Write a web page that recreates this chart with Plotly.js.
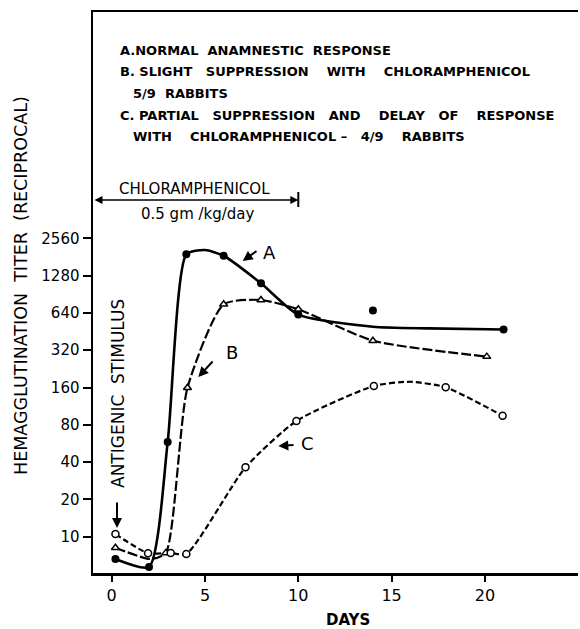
<!DOCTYPE html>
<html><head><meta charset="utf-8">
<script src="https://cdn.plot.ly/plotly-3.0.1.min.js"></script>
<style>html,body{margin:0;padding:0;background:#fff}#chart{width:580px;height:629px}</style>
</head><body><div id="chart"></div>
<script>
// ---- data ----
const yTickVals = [10, 20, 40, 80, 160, 320, 640, 1280, 2560];
const yTickText = ["10", "20", "40", "80", "160", "320", "640", "1280", "2560"];
const xTickVals = [0, 5, 10, 15, 20];

// A: normal anamnestic response (observed points)
const daysA  = [0.2, 2, 3, 4, 6, 8, 10, 14, 21];
const titerA = [6.6, 5.7, 58, 1900, 1850, 1110, 620, 670, 470];
// A: drawn smooth curve
const curveDaysA  = [0.2, 2, 3, 4, 5, 6, 8, 10, 14, 17, 21];
const curveTiterA = [6.6, 5.7, 58, 1900, 2060, 1850, 1110, 620, 495, 480, 470];

// B: slight suppression
const daysB  = [0.2, 2.9, 4.06, 6, 8, 10, 14, 20.1];
const titerB = [8.15, 7.4, 159, 751, 814, 684, 382, 284];
const curveDaysB  = [0.2, 2.1, 2.9, 4.06, 6, 8, 10, 14, 20.1];
const curveTiterB = [8.15, 6.6, 7.4, 159, 751, 814, 684, 382, 284];

// C: partial suppression and delay
const daysC  = [0.2, 1.95, 3.16, 4, 7.17, 9.9, 14.05, 17.9, 20.95];
const titerC = [10.5, 7.35, 7.4, 7.25, 36.3, 85.9, 164.6, 160.6, 94.7];
const curveDaysC  = [0.2, 1.95, 3.16, 4, 7.17, 9.9, 14.05, 16, 17.9, 20.95];
const curveTiterC = [10.5, 7.35, 7.4, 7.25, 36.3, 85.9, 164.6, 178, 160.6, 94.7];

const chloroEndDay = 10;

const sp = n => "&nbsp;".repeat(n);
const legendLines = [
  "A.NORMAL" + sp(2) + "ANAMNESTIC" + sp(2) + "RESPONSE",
  "B. SLIGHT" + sp(3) + "SUPPRESSION" + sp(4) + "WITH" + sp(4) + "CHLORAMPHENICOL",
  "5/9" + sp(2) + "RABBITS",
  "C. PARTIAL" + sp(3) + "SUPPRESSION" + sp(3) + "AND" + sp(4) + "DELAY" + sp(3) + "OF" + sp(4) + "RESPONSE",
  "WITH" + sp(4) + "CHLORAMPHENICOL" + sp(1) + "–" + sp(3) + "4/9" + sp(4) + "RABBITS"
];

// ---- layout geometry ----
const W = 580, H = 629;
const M = {l: 93, r: 2, t: 12, b: 56};
const PW = W - M.l - M.r, PH = H - M.t - M.b;
const px = x => (x - M.l) / PW;
const py = y => (H - M.b - y) / PH;

const FONT = "DejaVu Sans";
const traces = [
  {x: curveDaysA, y: curveTiterA, mode: "lines", line: {color: "#000", width: 2.6, shape: "spline", smoothing: 0.6}, hoverinfo: "skip"},
  {x: curveDaysB, y: curveTiterB, mode: "lines", line: {color: "#000", width: 2.2, dash: "10px,3px", shape: "spline", smoothing: 0.6}, hoverinfo: "skip"},
  {x: curveDaysC, y: curveTiterC, mode: "lines", line: {color: "#000", width: 2.2, dash: "6px,3px", shape: "spline", smoothing: 0.6}, hoverinfo: "skip"},
  {x: daysA, y: titerA, mode: "markers", marker: {symbol: "circle", size: 8, color: "#000"}},
  {x: daysB, y: titerB, mode: "markers", marker: {symbol: "triangle-up", size: 7, color: "#fff", line: {color: "#000", width: 1.5}}},
  {x: daysC, y: titerC, mode: "markers", marker: {symbol: "circle", size: 7, color: "#fff", line: {color: "#000", width: 1.5}}}
];

const ann = [];
const txt = (x, y, text, size, extra) => Object.assign({xref: "paper", yref: "paper", x: px(x), y: py(y),
  xanchor: "center", yanchor: "middle", text: text, showarrow: false, font: {family: FONT, size: size, color: "#000"}}, extra || {});

const legY = [50, 71.7, 93.3, 115, 136.7];
const legX = [118, 118, 131, 118, 131];
legendLines.forEach((t, i) => ann.push(txt(legX[i], legY[i], "<b>" + t + "</b>", 13, {xanchor: "left"})));
ann.push(txt(194, 189, "CHLORAMPHENICOL", 15));
ann.push(txt(198, 214, "0.5 gm /kg/day", 15));
// double-headed arrow for treatment period
ann.push({xref: "x", yref: "paper", x: chloroEndDay, y: py(200), ax: -(298.3 - 93), ay: 0, axref: "pixel", ayref: "pixel",
  text: "", showarrow: true, arrowhead: 2, startarrowhead: 2, arrowside: "end+start", arrowsize: 1, arrowwidth: 1.6, arrowcolor: "#000"});
// y title
ann.push(txt(21, 286, "HEMAGGLUTINATION  TITER  (RECIPROCAL)", 17.5, {textangle: -90}));
// antigenic stimulus
ann.push(txt(118, 394, "ANTIGENIC  STIMULUS", 17, {textangle: -90}));
ann.push({xref: "paper", yref: "paper", x: px(117), y: py(528), ax: 0, ay: -27, text: "", showarrow: true,
  arrowhead: 2, arrowsize: 1, arrowwidth: 2, arrowcolor: "#000"});
// curve labels
const labs = [["A", 269, 252, 242.7, 261, 258, 250], ["B", 232, 352, 198.3, 377, 214, 360], ["C", 307, 443, 278.3, 446, 295, 445]];
labs.forEach(l => {
  ann.push(txt(l[1], l[2], l[0], 18));
  ann.push({xref: "paper", yref: "paper", x: px(l[3]), y: py(l[4]), ax: l[5] - l[3], ay: l[6] - l[4], text: "", showarrow: true,
    arrowhead: 2, arrowsize: 1, arrowwidth: 2, arrowcolor: "#000"});
});
// x title
ann.push(txt(348, 620, "<b>DAYS</b>", 15));

const layout = {
  width: W, height: H, margin: M, showlegend: false,
  paper_bgcolor: "#fff", plot_bgcolor: "#fff",
  xaxis: {range: [-1.002, 24.99], tickvals: xTickVals, ticks: "outside", ticklen: 6, tickwidth: 2, tickcolor: "#000",
    showline: true, linewidth: 2.5, linecolor: "#000", mirror: true, showgrid: false, zeroline: false,
    tickfont: {family: FONT, size: 16, color: "#000"}},
  yaxis: {type: "log", range: [0.707, 5.2346], tickvals: yTickVals, ticktext: yTickText, ticks: "outside", ticklen: 8, tickwidth: 2,
    tickcolor: "#000", showline: true, linewidth: 2.5, linecolor: "#000", mirror: false, showgrid: false, zeroline: false,
    tickfont: {family: FONT, size: 15, color: "#000"}},
  shapes: [{type: "line", xref: "x", yref: "paper", x0: chloroEndDay, x1: chloroEndDay, y0: py(192), y1: py(207),
    line: {color: "#000", width: 2}}],
  annotations: ann
};
Plotly.newPlot("chart", traces, layout, {staticPlot: true});
</script></body></html>
